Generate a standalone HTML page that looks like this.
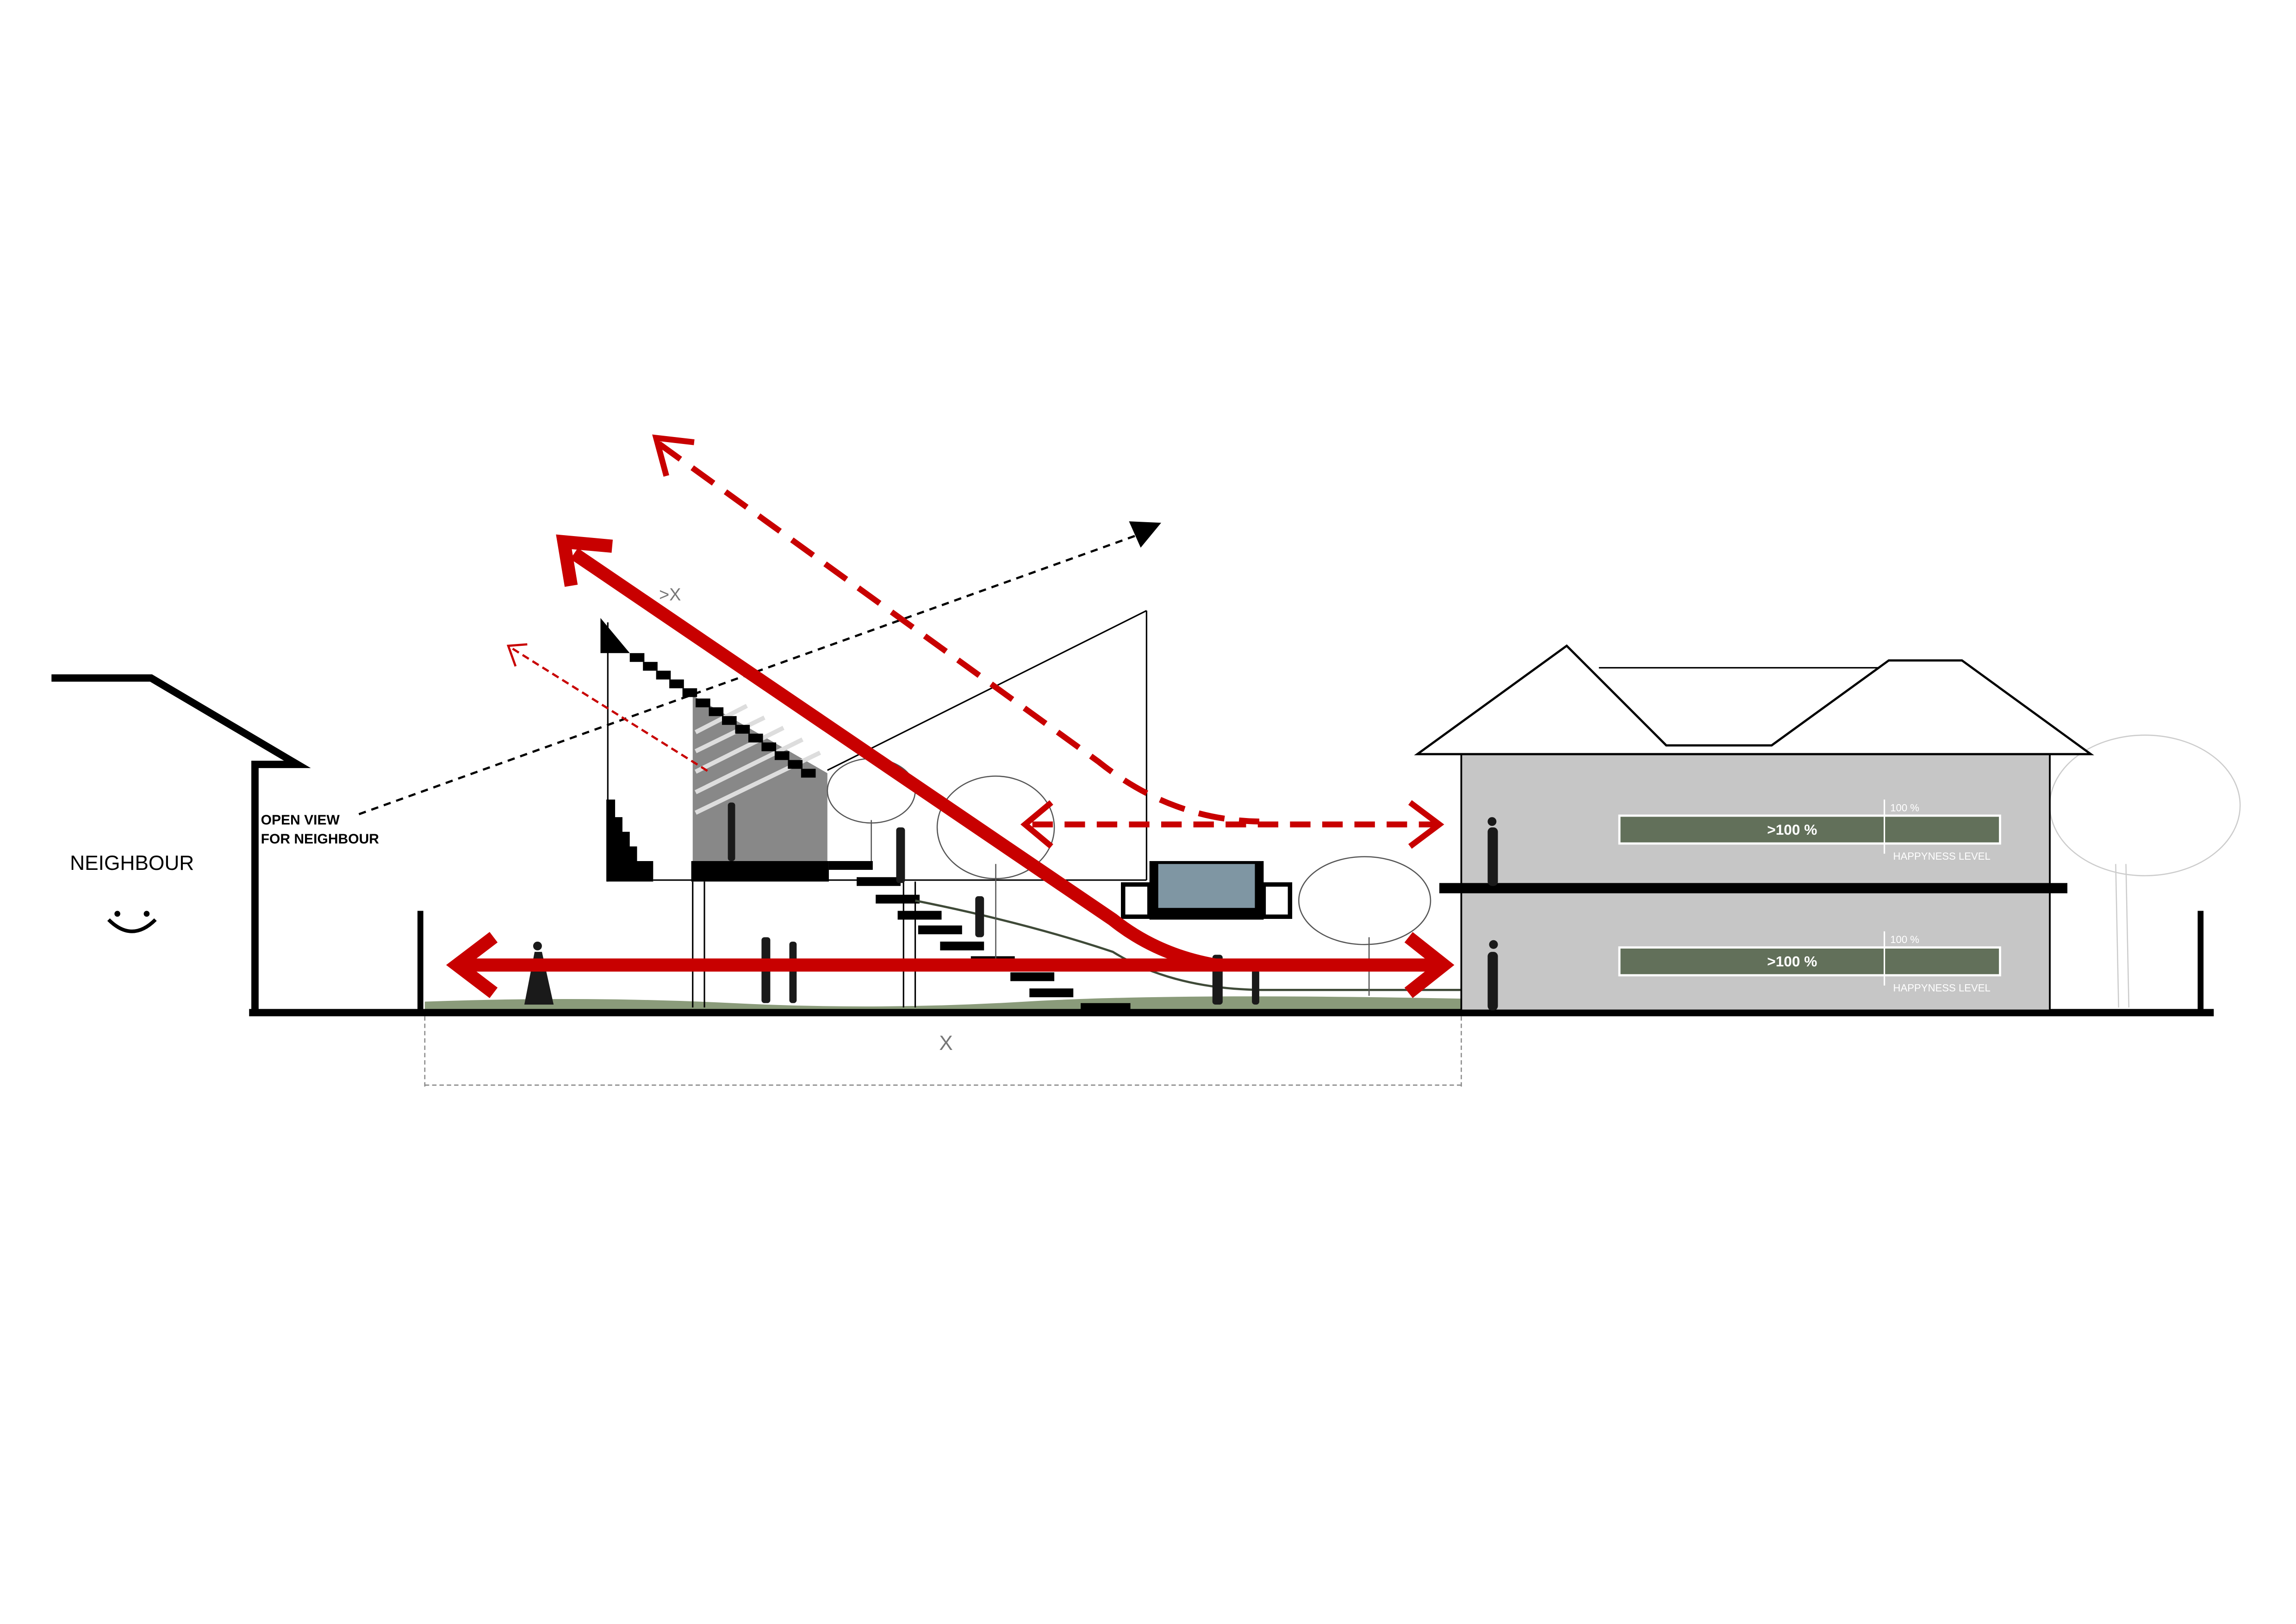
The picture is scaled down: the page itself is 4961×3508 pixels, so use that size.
<!DOCTYPE html>
<html><head><meta charset="utf-8"><style>
html,body{margin:0;padding:0;background:#fff;}
svg{display:block;}
text{font-family:"Liberation Sans",sans-serif;}
</style></head><body>
<svg width="4961" height="3508" viewBox="0 0 1568 1109" xmlns="http://www.w3.org/2000/svg">
<rect width="1568" height="1109" fill="#fff"/>
<!-- ground -->
<path d="M290 684 Q400 680 500 685 T700 684 T1000 682 L1000 690 L290 690Z" fill="#8a9b7a"/>
<rect x="170" y="689" width="1342" height="5" fill="#000"/>
<!-- neighbour -->
<polyline points="35,463 103,463 203,522 174,522 174,691" fill="none" stroke="#000" stroke-width="5"/>
<text x="90" y="594" font-size="14" text-anchor="middle">NEIGHBOUR</text>
<circle cx="80" cy="624" r="2" fill="#000"/><circle cx="100" cy="624" r="2" fill="#000"/>
<path d="M74 628 Q90 644 106 628" fill="none" stroke="#000" stroke-width="2.5"/>
<text x="178" y="563" font-size="9.5" font-weight="bold">OPEN VIEW</text>
<text x="178" y="576" font-size="9.5" font-weight="bold">FOR NEIGHBOUR</text>
<line x1="287" y1="622" x2="287" y2="691" stroke="#000" stroke-width="4"/>
<line x1="1503" y1="622" x2="1503" y2="691" stroke="#000" stroke-width="4"/>
<!-- black dashed view line -->
<line x1="245" y1="556" x2="775" y2="366" stroke="#000" stroke-width="1.5" stroke-dasharray="5,4"/>
<polygon points="793,357 771,356 779,374" fill="#000"/>
<!-- central building -->
<line x1="415" y1="425" x2="415" y2="602" stroke="#000" stroke-width="1"/>
<polygon points="410,422 410,446 430,446" fill="#000"/>
<polygon points="473,475 565,528 565,588 473,588" fill="#888"/>
<g stroke="#ddd" stroke-width="3">
<line x1="475" y1="500" x2="510" y2="482"/><line x1="475" y1="513" x2="522" y2="490"/>
<line x1="475" y1="527" x2="535" y2="497"/><line x1="475" y1="541" x2="548" y2="505"/>
<line x1="475" y1="555" x2="560" y2="514"/>
</g>
<g fill="#000">
<rect x="430" y="446" width="10" height="6"/><rect x="439" y="452" width="10" height="6"/><rect x="448" y="458" width="10" height="6"/>
<rect x="457" y="464" width="10" height="6"/><rect x="466" y="470" width="10" height="6"/><rect x="475" y="477" width="10" height="6"/>
<rect x="484" y="483" width="10" height="6"/><rect x="493" y="489" width="10" height="6"/><rect x="502" y="495" width="10" height="6"/>
<rect x="511" y="501" width="10" height="6"/><rect x="520" y="507" width="10" height="6"/><rect x="529" y="513" width="10" height="6"/>
<rect x="538" y="519" width="10" height="6"/><rect x="547" y="525" width="10" height="6"/>
<polygon points="414,546 420,546 420,558 425,558 425,568 430,568 430,578 435,578 435,588 440,588 446,588 446,602 414,602"/>
<rect x="472" y="588" width="94" height="14"/>
<rect x="566" y="588" width="30" height="6"/><rect x="585" y="599" width="30" height="6"/><rect x="598" y="611" width="30" height="6"/>
<rect x="613" y="622" width="30" height="6"/><rect x="627" y="632" width="30" height="6"/><rect x="642" y="643" width="30" height="6"/>
<rect x="663" y="653" width="30" height="6"/><rect x="690" y="664" width="30" height="6"/><rect x="703" y="675" width="30" height="6"/>
<rect x="738" y="685" width="34" height="6"/>
</g>
<line x1="446" y1="601" x2="783" y2="601" stroke="#000" stroke-width="1"/>
<line x1="565" y1="526" x2="783" y2="417" stroke="#000" stroke-width="1"/>
<line x1="783" y1="417" x2="783" y2="601" stroke="#000" stroke-width="1"/>
<line x1="473" y1="602" x2="473" y2="688" stroke="#000" stroke-width="1"/>
<line x1="481" y1="602" x2="481" y2="688" stroke="#000" stroke-width="1"/>
<line x1="617" y1="602" x2="617" y2="688" stroke="#000" stroke-width="1"/>
<line x1="625" y1="602" x2="625" y2="688" stroke="#000" stroke-width="1"/>
<path d="M625 615 Q700 630 760 650 Q800 675 860 676 L998 676" fill="none" stroke="#3f4a38" stroke-width="1.5"/>
<!-- pool -->
<rect x="785" y="588" width="78" height="40" fill="#000"/>
<rect x="791" y="590" width="66" height="30" fill="#7f96a3"/>
<rect x="767" y="604" width="18" height="22" fill="none" stroke="#000" stroke-width="3"/>
<rect x="863" y="604" width="18" height="22" fill="none" stroke="#000" stroke-width="3"/>
<!-- trees (simplified) -->
<g fill="none" stroke="#555" stroke-width="0.8">
<ellipse cx="595" cy="540" rx="30" ry="22"/><line x1="595" y1="560" x2="595" y2="588"/>
<ellipse cx="680" cy="565" rx="40" ry="35"/><line x1="680" y1="590" x2="680" y2="660"/>
<ellipse cx="932" cy="615" rx="45" ry="30"/><line x1="935" y1="640" x2="935" y2="680"/>
</g>
<g fill="none" stroke="#ccc" stroke-width="0.8">
<ellipse cx="1465" cy="550" rx="65" ry="48"/><line x1="1445" y1="590" x2="1447" y2="688"/><line x1="1452" y1="590" x2="1454" y2="688"/>
</g>
<!-- right building -->
<rect x="998" y="515" width="402" height="175" fill="#c6c6c6" stroke="#000" stroke-width="1.2"/>
<polygon points="968,515 1070,441 1138,509 1210,509 1290,451 1340,451 1428,515" fill="#fff" stroke="#000" stroke-width="1.5"/>
<line x1="1092" y1="456" x2="1283" y2="456" stroke="#000" stroke-width="1"/>
<rect x="983" y="603" width="429" height="7" fill="#000"/>
<g>
<rect x="1106" y="557" width="260" height="19" fill="#62705a" stroke="#fff" stroke-width="1.5"/>
<line x1="1287" y1="546" x2="1287" y2="583" stroke="#fff" stroke-width="1"/>
<text x="1224" y="570" font-size="10" fill="#fff" font-weight="bold" text-anchor="middle">&gt;100 %</text>
<text x="1291" y="554" font-size="7" fill="#fff">100 %</text>
<text x="1293" y="587" font-size="7" fill="#fff">HAPPYNESS LEVEL</text>
<rect x="1106" y="647" width="260" height="19" fill="#62705a" stroke="#fff" stroke-width="1.5"/>
<line x1="1287" y1="636" x2="1287" y2="673" stroke="#fff" stroke-width="1"/>
<text x="1224" y="660" font-size="10" fill="#fff" font-weight="bold" text-anchor="middle">&gt;100 %</text>
<text x="1291" y="644" font-size="7" fill="#fff">100 %</text>
<text x="1293" y="677" font-size="7" fill="#fff">HAPPYNESS LEVEL</text>
</g>
<!-- people -->
<g fill="#1a1a1a">
<rect x="1016" y="565" width="7" height="40" rx="3"/><circle cx="1019" cy="561" r="3"/>
<rect x="1016" y="650" width="7" height="40" rx="3"/><circle cx="1020" cy="645" r="3"/>
<rect x="497" y="548" width="5" height="40" rx="2"/>
<polygon points="365,650 370,650 378,686 358,686"/><circle cx="367" cy="646" r="3"/>
<rect x="520" y="640" width="6" height="45" rx="2"/><rect x="539" y="643" width="5" height="42" rx="2"/>
<rect x="612" y="565" width="6" height="38" rx="2"/>
<rect x="666" y="612" width="6" height="28" rx="2"/>
<rect x="828" y="652" width="7" height="34" rx="2"/><rect x="855" y="662" width="5" height="24" rx="2"/>
</g>
<!-- red arrows -->
<g fill="none" stroke="#c80000">
<path d="M392 378 L760 628 Q790 652 830 659" stroke-width="9"/>
<polyline points="390,400 385,370 418,373" stroke-width="9"/>
<line x1="312" y1="659" x2="985" y2="659" stroke-width="9"/>
<polyline points="337,640 312,659 337,678" stroke-width="9"/>
<polyline points="962,640 986,659 962,678" stroke-width="9"/>
<path d="M450 303 L750 520 Q800 560 860 561" stroke-width="4" stroke-dasharray="18,10"/>
<polyline points="455,325 448,299 474,302" stroke-width="4"/>
<line x1="705" y1="563" x2="985" y2="563" stroke-width="4" stroke-dasharray="14,8"/>
<polyline points="718,548 700,563 718,578" stroke-width="4"/>
<polyline points="963,548 983,563 963,578" stroke-width="4"/>
<line x1="350" y1="443" x2="484" y2="527" stroke-width="1.5" stroke-dasharray="5,3"/>
<polyline points="352,455 347,441 360,440" stroke-width="1.5"/>
</g>
<text x="450" y="410" font-size="12" fill="#777">&gt;X</text>
<!-- dimension -->
<line x1="290" y1="694" x2="290" y2="742" stroke="#888" stroke-width="0.8" stroke-dasharray="3,2"/>
<line x1="998" y1="694" x2="998" y2="742" stroke="#888" stroke-width="0.8" stroke-dasharray="3,2"/>
<line x1="290" y1="741" x2="998" y2="741" stroke="#888" stroke-width="0.8" stroke-dasharray="3,2"/>
<text x="646" y="717" font-size="14" fill="#777" text-anchor="middle">X</text>
</svg>
</body></html>
